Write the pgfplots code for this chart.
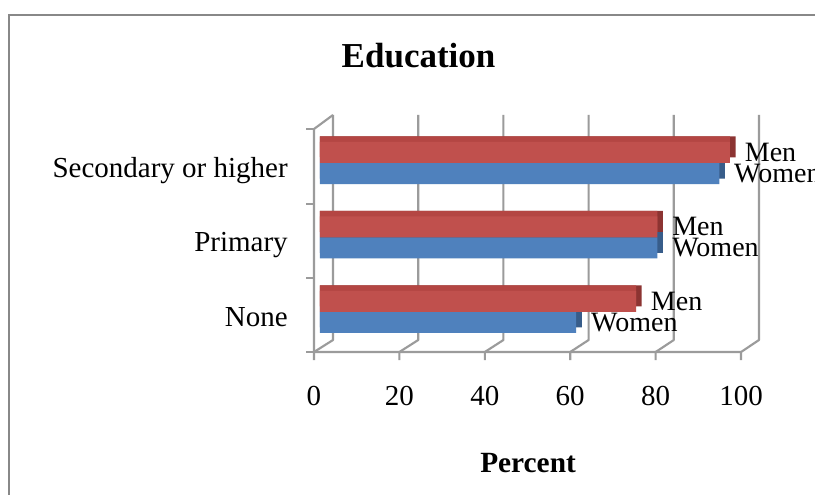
\documentclass[border=0pt]{standalone}
\usepackage{fontspec}
\setmainfont{Liberation Serif}
\usepackage{pgfplots}
\usepackage{pgfplotstable}
\pgfplotsset{compat=1.18}

\definecolor{menfront}{RGB}{192,80,77}
\definecolor{mentop}{RGB}{180,70,67}
\definecolor{menside}{RGB}{140,52,50}
\definecolor{womenfront}{RGB}{79,129,189}
\definecolor{womenside}{RGB}{56,93,138}
\definecolor{gridgray}{RGB}{155,155,155}
\definecolor{framegray}{RGB}{136,136,136}

% share of each group, by education level (0 = None, 1 = Primary, 2 = Secondary or higher)
\pgfplotstableread{
cat women men
0   60    74
1   79    79
2   93.5  96
}\edu

\begin{document}
\begin{tikzpicture}
\useasboundingbox (0,0) rectangle (611.25pt,-371.25pt);
\clip (0,0) rectangle (611.25pt,-371.25pt);
\fill[white] (0,0) rectangle (611.25pt,-371.25pt);
\draw[framegray, line width=1.9pt] (6.75pt,-11.25pt) rectangle (660pt,-420pt);

\begin{axis}[
  at={(235.5pt,-264pt)}, anchor=south west,
  scale only axis, width=333.75pt, height=177.75pt,
  xmin=-1.4, xmax=102.8, ymin=-0.54, ymax=2.645,
  clip=false,
  axis line style={draw=none}, tick style={draw=none}, major tick length=0pt,
  xtick={-1.4,18.6,38.6,58.6,78.6,98.6},
  xticklabels={0,20,40,60,80,100},
  ytick={0,1,2},
  yticklabels={None,Primary,Secondary or higher},
  tick label style={font=\fontsize{21.75}{26}\selectfont},
  xticklabel style={anchor=base, inner sep=0pt, yshift=-39.75pt},
  yticklabel style={anchor=base east, inner sep=0pt, xshift=-19.5pt, yshift=-10.9pt},
  xlabel={Percent},
  xlabel style={at={(axis description cs:0.481,0)}, anchor=base, inner sep=0pt,
    yshift=-90pt, font=\fontsize{22}{26}\selectfont\bfseries},
  title={Education},
  title style={at={(axis description cs:0.235,1)}, anchor=base, inner sep=0pt,
    yshift=29.5pt, font=\fontsize{26.25}{30}\selectfont\bfseries},
  xbar, bar width=15.75pt,
  every node near coord/.append style={anchor=west, inner sep=0pt, xshift=11pt,
    font=\fontsize{21}{25}\selectfont, text=black},
]

% back wall, floor and front edges
\draw[gridgray, line width=1.6pt, line join=round]
  (axis cs:3.05,2.645) -- (axis cs:3.05,-0.379) -- (axis cs:-1.4,-0.54) -- (axis cs:-1.4,-0.65);
\draw[gridgray, line width=1.6pt, line join=round]
  (axis cs:23.0,2.645) -- (axis cs:23.0,-0.379) -- (axis cs:18.6,-0.54) -- (axis cs:18.6,-0.65);
\draw[gridgray, line width=1.6pt, line join=round]
  (axis cs:42.95,2.645) -- (axis cs:42.95,-0.379) -- (axis cs:38.6,-0.54) -- (axis cs:38.6,-0.65);
\draw[gridgray, line width=1.6pt, line join=round]
  (axis cs:62.9,2.645) -- (axis cs:62.9,-0.379) -- (axis cs:58.6,-0.54) -- (axis cs:58.6,-0.65);
\draw[gridgray, line width=1.6pt, line join=round]
  (axis cs:82.85,2.645) -- (axis cs:82.85,-0.379) -- (axis cs:78.6,-0.54) -- (axis cs:78.6,-0.65);
\draw[gridgray, line width=1.6pt, line join=round]
  (axis cs:102.8,2.645) -- (axis cs:102.8,-0.379) -- (axis cs:98.6,-0.54) -- (axis cs:98.6,-0.65);
\draw[gridgray, line width=1.6pt, line join=round]
  (axis cs:3.05,2.645) -- (axis cs:-1.4,2.457) -- (axis cs:-1.4,-0.54) -- (axis cs:98.6,-0.54);
\draw[gridgray, line width=1.6pt] (axis cs:-1.4,2.457) -- (axis cs:-3.27,2.457);
\draw[gridgray, line width=1.6pt] (axis cs:-1.4,1.45) -- (axis cs:-3.27,1.45);
\draw[gridgray, line width=1.6pt] (axis cs:-1.4,0.455) -- (axis cs:-3.27,0.455);
\draw[gridgray, line width=1.6pt] (axis cs:-1.4,-0.54) -- (axis cs:-3.27,-0.54);

% Women: side face, then front face
\addplot[xbar, bar shift=-3.8pt, fill=womenside, draw=none]
  table[x expr=\thisrow{women}+1.3, y=cat] {\edu};
\addplot[xbar, bar shift=-7.9pt, fill=womenfront, draw=none,
  nodes near coords={Women}]
  table[x=women, y=cat] {\edu};

% Men: side face, top face, then front face
\addplot[xbar, bar shift=12pt, fill=menside, draw=none]
  table[x expr=\thisrow{men}+1.3, y=cat] {\edu};
\addplot[xbar, bar shift=12pt, fill=mentop, draw=none]
  table[x=men, y=cat] {\edu};
\addplot[xbar, bar shift=7.9pt, fill=menfront, draw=none,
  nodes near coords={Men}]
  table[x=men, y=cat] {\edu};
\end{axis}
\end{tikzpicture}
\end{document}
